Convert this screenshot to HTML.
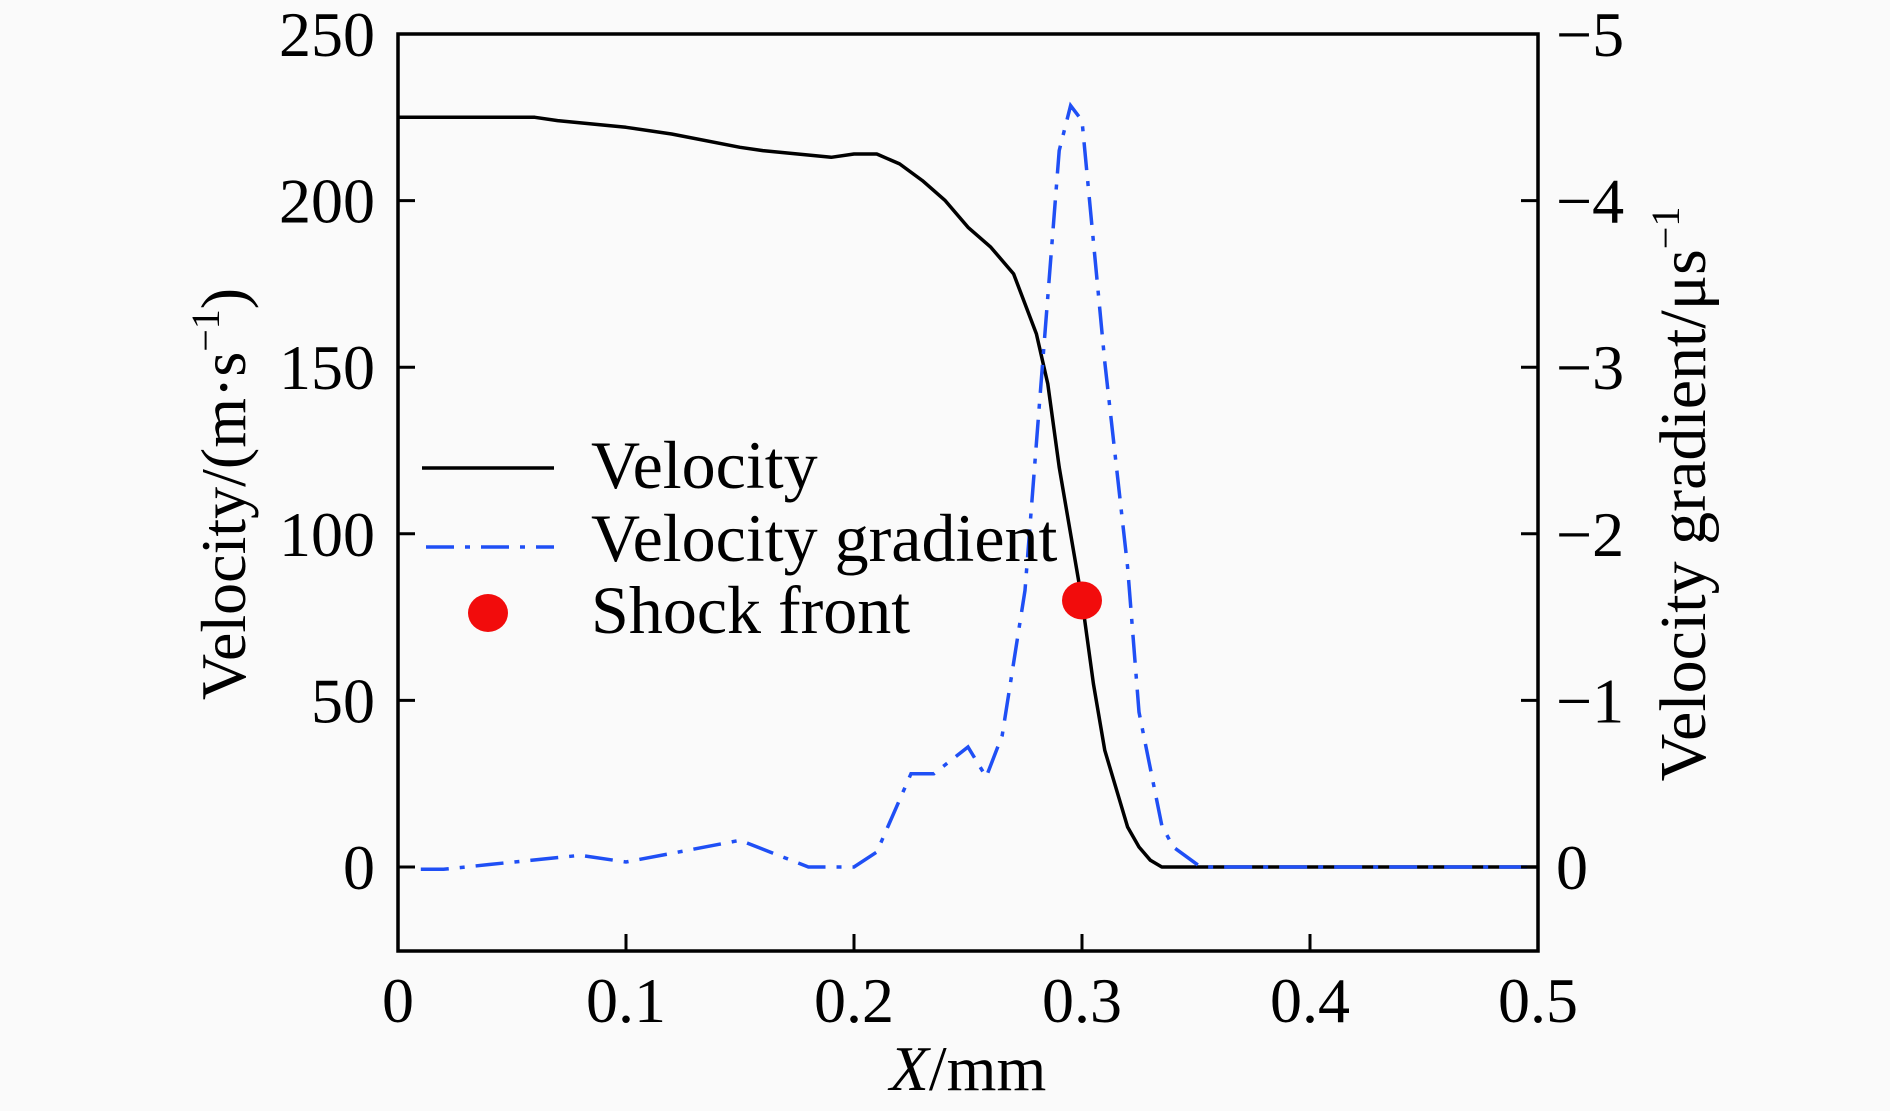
<!DOCTYPE html>
<html><head><meta charset="utf-8"><style>
html,body{margin:0;padding:0;background:#fafafa;}
svg{display:block;font-family:"Liberation Serif",serif;}
</style></head><body>
<svg id="chart" width="1890" height="1111" viewBox="0 0 1890 1111">
<rect width="1890" height="1111" fill="#fafafa"/>
<g id="plot"></g>
</svg>
<script>
const xTicks=[0,0.1,0.2,0.3,0.4,0.5];
const xTickLabels=["0","0.1","0.2","0.3","0.4","0.5"];
const yTicks=[0,50,100,150,200,250];
const yTickLabels=["0","50","100","150","200","250"];
const y2Ticks=[0,-1,-2,-3,-4,-5];
const y2TickLabels=["0","\u22121","\u22122","\u22123","\u22124","\u22125"];
const velX=[0,0.06,0.07,0.1,0.12,0.15,0.16,0.19,0.2,0.21,0.22,0.23,0.24,0.25,0.26,0.27,0.28,0.285,0.29,0.3,0.305,0.31,0.32,0.325,0.33,0.335,0.5];
const velY=[225,225,224,222,220,216,215,213,214,214,211,206,200,192,186,178,160,145,120,80,55,35,12,6,2,0,0];
const gradX=[0.01,0.02,0.04,0.08,0.1,0.15,0.18,0.2,0.21,0.225,0.235,0.25,0.258,0.265,0.275,0.282,0.29,0.295,0.3,0.31,0.32,0.325,0.335,0.34,0.352,0.5];
const gradY=[0.014,0.014,-0.015,-0.07,-0.03,-0.16,0,0,-0.09,-0.56,-0.56,-0.72,-0.54,-0.79,-1.66,-2.9,-4.3,-4.57,-4.48,-3.03,-1.8,-0.93,-0.25,-0.12,0,0];
const shockX=[0.3];
const shockY=[80];

const L=398,R=1538,T=34,B=951;
const sx=v=>L+(v-0)/(0.5)*(R-L);
const sy=v=>867-(v/250)*(867-34);
const sy2=g=>sy(-g*50);
const NS="http://www.w3.org/2000/svg";
const g=document.getElementById('plot');
function mk(tag,attrs,parent){const e=document.createElementNS(NS,tag);for(const k in attrs)e.setAttribute(k,attrs[k]);(parent||g).appendChild(e);return e;}

let d=velX.map((x,i)=>(i?'L':'M')+sx(x).toFixed(1)+' '+sy(velY[i]).toFixed(1)).join(' ');
const vl=mk('path',{d:d,fill:'none',stroke:'#000','stroke-width':3.5,'stroke-linejoin':'round'});


d=gradX.map((x,i)=>(i?'L':'M')+sx(x).toFixed(1)+' '+sy2(gradY[i]).toFixed(1)).join(' ');
const gl=mk('path',{d:d,fill:'none',stroke:'#1f4ff5','stroke-width':3.5,'stroke-dasharray':'28 11 5 11'});


shockX.forEach((x,i)=>{const c=mk('ellipse',{cx:sx(x),cy:sy(shockY[i]),rx:20,ry:19,fill:'#f20c0c'});

});

const fr=mk('rect',{x:L,y:T,width:R-L,height:B-T,fill:'none',stroke:'#000','stroke-width':3.5});



xTicks.forEach((v,i)=>{const x=sx(v);
 if(i>0&&i<xTicks.length-1){const t=mk('line',{x1:x,x2:x,y1:B,y2:B-17,stroke:'#000','stroke-width':3});
 
 }
 const tx=mk('text',{x:x,y:1022,'font-size':64,'text-anchor':'middle'});
 tx.textContent=xTickLabels[i];
 
 });
yTicks.forEach((v,i)=>{const y=sy(v);
 if(i<yTicks.length-1){const t=mk('line',{x1:L,x2:L+17,y1:y,y2:y,stroke:'#000','stroke-width':3});
 
 }
 const tx=mk('text',{x:375,y:y+22,'font-size':64,'text-anchor':'end'});
 tx.textContent=yTickLabels[i];
 
 });
y2Ticks.forEach((v,i)=>{const y=sy2(v);
 if(i<y2Ticks.length-1){const t=mk('line',{x1:R,x2:R-17,y1:y,y2:y,stroke:'#000','stroke-width':3});
 
 }
 const tx=mk('text',{x:1556,y:y+22,'font-size':64,'text-anchor':'start'});
 tx.textContent=y2TickLabels[i];
 
 });

let t=mk('text',{x:968,y:1090,'font-size':64,'text-anchor':'middle'});
t.innerHTML='<tspan font-style="italic">X</tspan>/mm';


t=mk('text',{x:0,y:0,'font-size':64,'text-anchor':'middle',transform:'translate(245,494) rotate(-90)'});
t.innerHTML='Velocity/(m·s<tspan font-size="40" dy="-26">−1</tspan><tspan dy="26">)</tspan>';


t=mk('text',{x:0,y:0,'font-size':66,'text-anchor':'middle',transform:'translate(1705,494) rotate(-90)'});
t.innerHTML='Velocity gradient/μs<tspan font-size="40" dy="-26">−1</tspan>';



const lg=mk('g',{});


let e=mk('line',{x1:422,x2:554,y1:468,y2:468,stroke:'#000','stroke-width':3.5},lg);


e=mk('line',{x1:426,x2:554,y1:547,y2:547,stroke:'#1f4ff5','stroke-width':3.5,'stroke-dasharray':'28 11 5 11'},lg);


e=mk('ellipse',{cx:488,cy:613,rx:20,ry:19,fill:'#f20c0c'},lg);


[['Velocity',488],['Velocity gradient',561],['Shock front',633]].forEach(([s,y])=>{
 const tx=mk('text',{x:591,y:y,'font-size':68},lg);
 tx.textContent=s;
 
 });
</script>
</body></html>
